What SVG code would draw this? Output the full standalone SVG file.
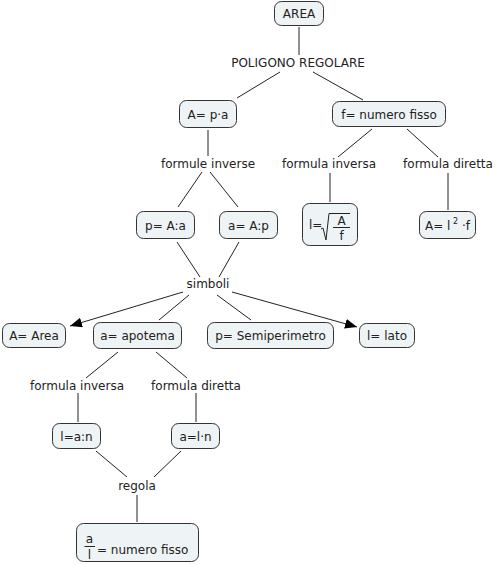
<svg xmlns="http://www.w3.org/2000/svg" width="496" height="565" viewBox="0 0 496 565">
<defs>
<marker id="arr" markerUnits="userSpaceOnUse" markerWidth="13" markerHeight="10" refX="12" refY="5" orient="auto">
<path d="M0,0 L12,5 L0,10 Z" fill="#000"/>
</marker>
<style>
text{font-family:"DejaVu Sans","Verdana",sans-serif;font-size:12px;fill:#222}
.n rect{fill:#eef3f5;stroke:#333;stroke-width:1}
.m{text-anchor:middle}
#edges line,#edges path{stroke:#222;stroke-width:1;fill:none}
</style>
</defs>
<rect width="496" height="565" fill="#fff"/>
<g id="edges">
<line x1="299" y1="27" x2="299" y2="55"/>
<line x1="280" y1="72" x2="237" y2="98"/>
<line x1="313" y1="72" x2="363" y2="100"/>
<line x1="208" y1="130" x2="208" y2="156"/>
<line x1="372" y1="129" x2="338" y2="157"/>
<line x1="407" y1="129" x2="438" y2="157"/>
<line x1="202" y1="172" x2="178" y2="207"/>
<line x1="210" y1="172" x2="238" y2="207"/>
<line x1="330" y1="173" x2="330" y2="202"/>
<line x1="448" y1="173" x2="448" y2="210"/>
<line x1="177" y1="242" x2="200" y2="277"/>
<line x1="239" y1="242" x2="219" y2="277"/>
<line x1="183" y1="292" x2="70" y2="326" marker-end="url(#arr)"/>
<line x1="189" y1="295" x2="159" y2="320"/>
<line x1="217" y1="295" x2="251" y2="320"/>
<line x1="232" y1="292" x2="357" y2="327" marker-end="url(#arr)"/>
<line x1="118" y1="352" x2="86" y2="378"/>
<line x1="156" y1="352" x2="187" y2="378"/>
<line x1="78" y1="393" x2="78" y2="422"/>
<line x1="196" y1="393" x2="196" y2="422"/>
<line x1="96" y1="451" x2="127" y2="477"/>
<line x1="181" y1="451" x2="154" y2="477"/>
<line x1="137" y1="495" x2="137" y2="522"/>
</g>
<g id="labels">
<text class="m" x="298" y="67">POLIGONO REGOLARE</text>
<text class="m" x="208" y="168">formule inverse</text>
<text class="m" x="329" y="168">formula inversa</text>
<text class="m" x="448" y="168">formula diretta</text>
<text class="m" x="208" y="288">simboli</text>
<text class="m" x="77" y="389.5">formula inversa</text>
<text class="m" x="196" y="389.5">formula diretta</text>
<text class="m" x="137" y="489.5">regola</text>
</g>
<g id="area" class="n"><rect x="274.5" y="1.5" width="49" height="24" rx="7"/><text class="m" x="299" y="18">AREA</text></g>
<g id="apa" class="n"><rect x="179.5" y="100.5" width="57" height="27" rx="7"/><text class="m" x="208" y="118.5">A= p·a</text></g>
<g id="fnum" class="n"><rect x="332.5" y="101.5" width="113" height="25" rx="7"/><text class="m" x="389" y="118.5">f= numero fisso</text></g>
<g id="pAa" class="n"><rect x="136.5" y="211.5" width="58" height="27" rx="7"/><text class="m" x="165.5" y="229.5">p= A:a</text></g>
<g id="aAp" class="n"><rect x="219.5" y="211.5" width="58" height="27" rx="7"/><text class="m" x="248.5" y="229.5">a= A:p</text></g>
<g id="lsqrt" class="n"><rect x="302.5" y="203.5" width="55" height="42" rx="7"/>
<text x="309" y="229">l=</text>
<path d="M321,229 L323,228 L326,240 L329,213.5 L350,213.5" fill="none" stroke="#222" stroke-width="1"/>
<text class="m" x="341.5" y="225">A</text>
<line x1="333" y1="227.5" x2="350" y2="227.5" stroke="#222" stroke-width="1"/>
<text class="m" x="341.5" y="239.5">f</text>
</g>
<g id="al2f" class="n"><rect x="419.5" y="211.5" width="56" height="27" rx="7"/>
<text x="425" y="230">A= l<tspan dy="-6" style="font-size:8px"> 2</tspan><tspan dy="6"> ·f</tspan></text></g>
<g id="aarea" class="n"><rect x="2.5" y="323.5" width="63" height="24" rx="7"/><text class="m" x="34" y="340">A= Area</text></g>
<g id="aapo" class="n"><rect x="93.5" y="322.5" width="88" height="26" rx="7"/><text class="m" x="137.5" y="340">a= apotema</text></g>
<g id="psemi" class="n"><rect x="207.5" y="322.5" width="126" height="26" rx="7"/><text class="m" x="270.5" y="340">p= Semiperimetro</text></g>
<g id="llato" class="n"><rect x="359.5" y="323.5" width="55" height="24" rx="7"/><text class="m" x="387" y="340">l= lato</text></g>
<g id="lan" class="n"><rect x="52.5" y="423.5" width="48" height="25" rx="7"/><text class="m" x="76.5" y="440.5">l=a:n</text></g>
<g id="aln" class="n"><rect x="171.5" y="423.5" width="48" height="25" rx="7"/><text class="m" x="195.5" y="440.5">a=l·n</text></g>
<g id="ratio" class="n"><rect x="76.5" y="523.5" width="122" height="38" rx="7"/>
<text class="m" x="89.5" y="543">a</text>
<line x1="84.5" y1="546.5" x2="95" y2="546.5" stroke="#222" stroke-width="1"/>
<text class="m" x="89.5" y="559">l</text>
<text x="97" y="553.5">= numero fisso</text>
</g>
</svg>
